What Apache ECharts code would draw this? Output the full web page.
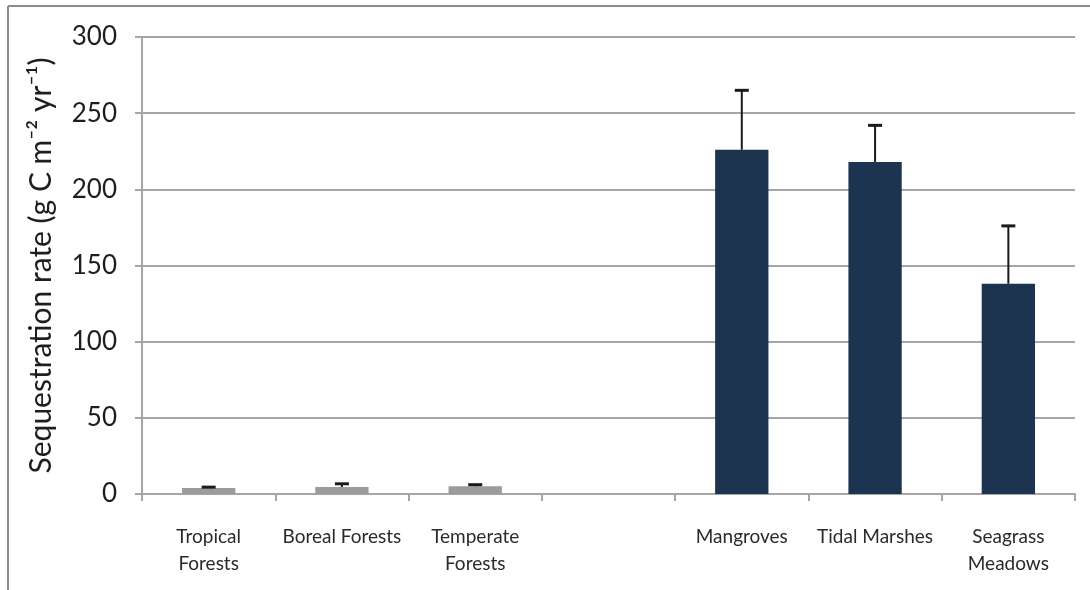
<!DOCTYPE html>
<html>
<head>
<meta charset="utf-8">
<script src="https://cdn.jsdelivr.net/npm/echarts@6/dist/echarts.min.js"></script>
<style>html,body{margin:0;padding:0;background:#fff}#c{width:1090px;height:590px}</style>
</head>
<body>
<div id="c"></div>
<script>
var categories = ['Tropical\nForests', 'Boreal Forests', 'Temperate\nForests', '', 'Mangroves', 'Tidal Marshes', 'Seagrass\nMeadows'];
var values = [4.0, 4.6, 5.1, null, 226, 218, 138];
var errors = [0.5, 2.1, 1.0, null, 39, 24, 38];
var barColors = ['#9b9b9b', '#9b9b9b', '#9b9b9b', '#9b9b9b', '#1d3451', '#1d3451', '#1d3451'];
var yTicks = [0, 50, 100, 150, 200, 250, 300];

var chart = echarts.init(document.getElementById('c'));
var font = 'Lato, Open Sans, sans-serif';
chart.setOption({
  animation: false,
  grid: { left: 142, right: 15, top: 37, bottom: 96 },
  graphic: [
    { type: 'line', shape: { x1: 8, y1: 6, x2: 1090, y2: 6 }, style: { stroke: '#8c8c8c', lineWidth: 2 } },
    { type: 'line', shape: { x1: 8, y1: 6, x2: 8, y2: 590 }, style: { stroke: '#8c8c8c', lineWidth: 2 } }
  ],
  xAxis: {
    type: 'category',
    data: categories,
    axisLine: { lineStyle: { color: '#a6a6a6', width: 2 } },
    axisTick: { show: true, length: 7, lineStyle: { color: '#a6a6a6', width: 2 } },
    axisLabel: { interval: 0, margin: 29, fontFamily: font, fontSize: 19, color: '#2a2a2a', lineHeight: 27 }
  },
  yAxis: {
    type: 'value',
    min: yTicks[0], max: yTicks[yTicks.length - 1], interval: 50,
    name: 'Sequestration rate (g C m\u207B\u00B2 yr\u207B\u00B9)',
    nameLocation: 'middle', nameGap: 86,
    nameTextStyle: { fontFamily: font, fontSize: 30, color: '#1e1e1e' },
    axisLine: { show: true, lineStyle: { color: '#a6a6a6', width: 2 } },
    axisTick: { show: true, length: 7, lineStyle: { color: '#a6a6a6', width: 2 } },
    axisLabel: { margin: 25, fontFamily: font, fontSize: 26, color: '#1e1e1e' },
    splitLine: { lineStyle: { color: '#a6a6a6', width: 2 } }
  },
  series: [
    {
      type: 'bar',
      barWidth: '40%',
      data: values.map(function (v, i) { return { value: v, itemStyle: { color: barColors[i] } }; })
    },
    {
      type: 'custom',
      data: values.map(function (v, i) { return v == null ? [i, null, null] : [i, v, v + errors[i]]; }),
      encode: { x: 0, y: [1, 2] },
      z: 5,
      renderItem: function (params, api) {
        var lo = api.value(1), hi = api.value(2);
        if (lo == null || isNaN(lo)) return null;
        var p0 = api.coord([api.value(0), lo]);
        var p1 = api.coord([api.value(0), hi]);
        var hw = 7;
        return {
          type: 'group',
          children: [
            { type: 'line', shape: { x1: p0[0], y1: p0[1], x2: p1[0], y2: p1[1] }, style: { stroke: '#1a1a1a', lineWidth: 2 } },
            { type: 'line', shape: { x1: p1[0] - hw, y1: p1[1], x2: p1[0] + hw, y2: p1[1] }, style: { stroke: '#1a1a1a', lineWidth: 3 } }
          ]
        };
      }
    }
  ]
});
</script>
</body>
</html>
